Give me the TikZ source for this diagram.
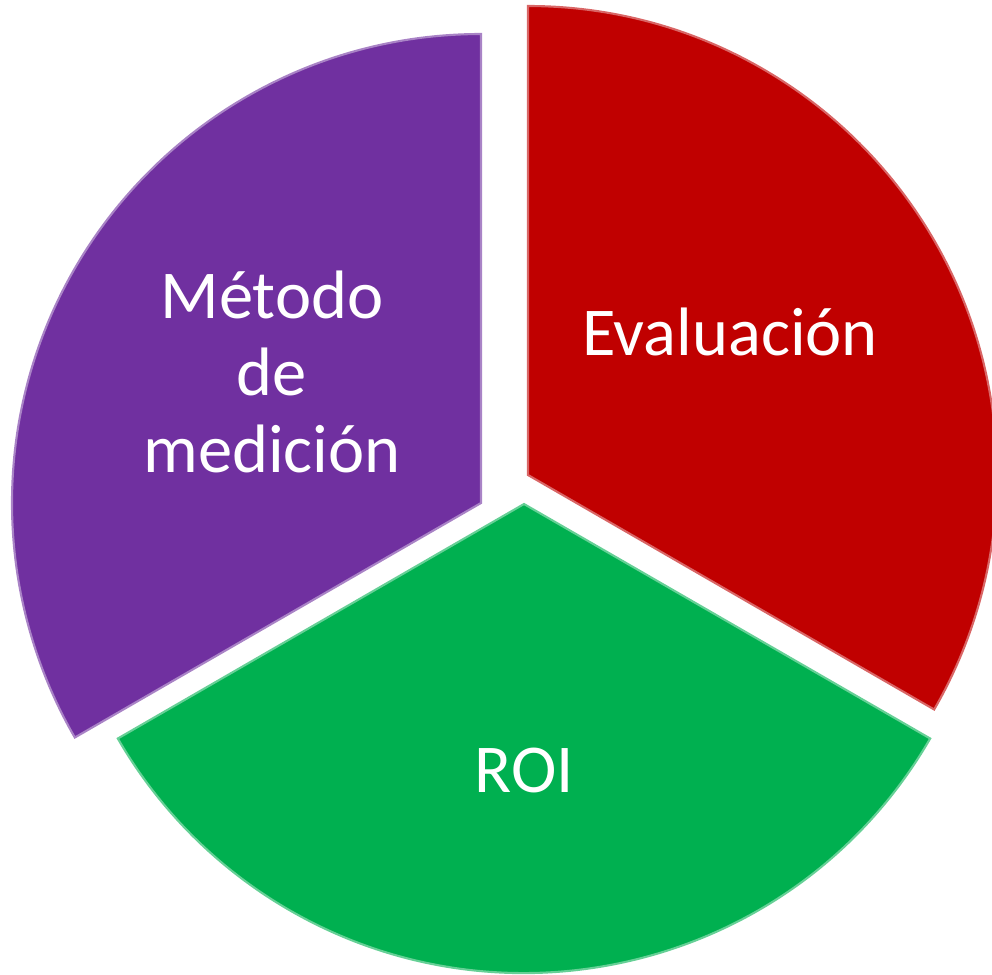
\documentclass[tikz,border=0pt]{standalone}
\usepackage{fontspec}
\setmainfont{Carlito}
\definecolor{pieRed}{HTML}{C00000}
\definecolor{pieGreen}{HTML}{00B050}
\definecolor{piePurple}{HTML}{7030A0}

\begin{document}
\begin{tikzpicture} [x = 0.02cm, y = 0.02cm, line join = miter]
\tikzset{label text/.style = {text = white, font = \fontsize{39}{43.7}\selectfont, align = center, inner sep = 0pt}}
\useasboundingbox (0, -975) rectangle (992, 0);
% red slice, top right
\fill[pieRed] (528, -475) -- ++(90:469) arc [start angle = 90, end angle = -30, radius = 469] -- cycle;
\draw[pieRed!60!white, line width = 1.2pt] (528, -475) -- ++(90:469) arc [start angle = 90, end angle = -30, radius = 469] -- cycle;
% green slice, bottom
\fill[pieGreen] (524, -504) -- ++(-30:469) arc [start angle = -30, end angle = -150, radius = 469] -- cycle;
\draw[pieGreen!60!white, line width = 1.2pt] (524, -504) -- ++(-30:469) arc [start angle = -30, end angle = -150, radius = 469] -- cycle;
% purple slice, top left
\fill[piePurple] (481, -503) -- ++(90:469) arc [start angle = 90, end angle = 210, radius = 469] -- cycle;
\draw[piePurple!60!white, line width = 1.2pt] (481, -503) -- ++(90:469) arc [start angle = 90, end angle = 210, radius = 469] -- cycle;
\node[label text, anchor = base] (eval) at (730, -355){Evaluación};
\node[label text, anchor = base] (roi) at (524, -792){ROI};
\node[label text, anchor = base] (metodo) at (272, -472){Método\\de\\medición};
\end{tikzpicture}
\end{document}
